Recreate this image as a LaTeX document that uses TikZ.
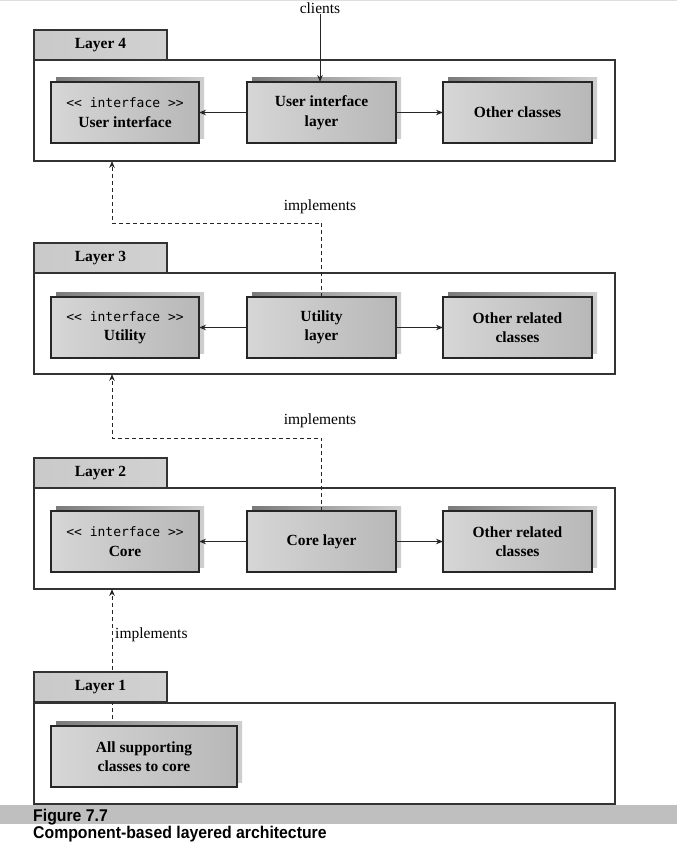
\documentclass[tikz,border=0pt]{standalone}
\usepackage{fontspec}
\setmainfont{Liberation Serif}
\newfontfamily\capfont{Liberation Sans}
\newfontfamily\codefont{DejaVu Sans Mono}
\usetikzlibrary{arrows.meta,shadows}
\begin{document}
\begin{tikzpicture}[x=1pt,y=-1pt,
  layerbox/.style={draw=black!80, line width=1.3pt, fill=white, anchor=north west,
    inner sep=0pt, outer sep=0pt, minimum width=581pt, minimum height=101pt},
  tabbox/.style={draw=black!80, line width=1.3pt, left color=gray!42, middle color=gray!14, right color=gray!36,
    anchor=north west, inner sep=0pt, outer sep=0pt, minimum width=133pt, minimum height=30pt,
    font=\fontsize{15.5}{18}\selectfont\bfseries},
  clsbox/.style={draw=black!85, line width=1.3pt, left color=gray!32, middle color=gray!16, right color=gray!56,
    anchor=north west, inner sep=0pt, outer sep=0pt, minimum height=61pt, align=center,
    font=\fontsize{15.5}{19.5}\selectfont\bfseries,
    general shadow={shadow xshift=5pt, shadow yshift=5pt, left color=black!52, right color=gray!38}},
  conn/.style={draw=black!85, line width=1pt, -{Stealth[length=7pt,width=5.5pt]}},
  impl/.style={draw=black!85, line width=1pt, dash pattern=on 4pt off 3pt, -{Stealth[length=7pt,width=5.5pt]}},
  lbl/.style={font=\fontsize{15.5}{18}\selectfont, inner sep=0pt},
  capstyle/.style={anchor=base west, inner sep=0pt, font=\capfont\bfseries\fontsize{17}{20}\selectfont}
]
\useasboundingbox (0,0) rectangle (677,859);
\draw[gray!25, line width=1pt] (0,1) -- (677,1);

% layer frames
\node[layerbox] (L4) at (34,60) {};
\node[layerbox] (L3) at (34,273) {};
\node[layerbox] (L2) at (34,488) {};
\node[layerbox] (L1) at (34,703) {};

% labels
\node[lbl] (clients) at (320,8) {clients};
\node[lbl] (imp4) at (320,207) {implements};
\node[lbl] (imp3) at (320,421) {implements};
\node[lbl, anchor=west] (imp2) at (115,635) {implements};

\coordinate (b4) at (112,223);
\coordinate (b3) at (112,438);
\coordinate (s1) at (112,726);

% dashed line of layer 1 (behind tab and box)
\draw[impl] (s1) -- (s1 |- L2.south);

% tabs
\node[tabbox] (T4) at (34,30) {Layer 4};
\node[tabbox] (T3) at (34,243) {Layer 3};
\node[tabbox] (T2) at (34,458) {Layer 2};
\node[tabbox] (T1) at (34,672) {Layer 1};

% layer 4 classes
\node[clsbox, minimum width=148pt] (if4) at (51,82) {\codefont\fontsize{13}{15}\selectfont\mdseries << interface >>\\User interface};
\node[clsbox, minimum width=149pt] (mid4) at (247,82) {User interface\\layer};
\node[clsbox, minimum width=149pt] (oth4) at (443,82) {Other classes};

% layer 3 classes
\node[clsbox, minimum width=148pt] (if3) at (51,297) {\codefont\fontsize{13}{15}\selectfont\mdseries << interface >>\\Utility};
\node[clsbox, minimum width=149pt] (mid3) at (247,297) {Utility\\layer};
\node[clsbox, minimum width=149pt] (oth3) at (443,297) {Other related\\classes};

% layer 2 classes
\node[clsbox, minimum width=148pt] (if2) at (51,511) {\codefont\fontsize{13}{15}\selectfont\mdseries << interface >>\\Core};
\node[clsbox, minimum width=149pt] (mid2) at (247,511) {Core layer};
\node[clsbox, minimum width=149pt] (oth2) at (443,511) {Other related\\classes};

% layer 1 class
\node[clsbox, minimum width=186pt] (sup) at (51,726) {All supporting\\classes to core};

% connectors
\draw[conn] (clients.south) -- (clients.south |- mid4.north);
\draw[conn] (mid4.west) -- (if4.east);
\draw[conn] (mid4.east) -- (oth4.west);
\draw[conn] (mid3.west) -- (if3.east);
\draw[conn] (mid3.east) -- (oth3.west);
\draw[conn] (mid2.west) -- (if2.east);
\draw[conn] (mid2.east) -- (oth2.west);

\draw[impl] (mid3.north) |- (b4) -- (b4 |- L4.south);
\draw[impl] (mid2.north) |- (b3) -- (b3 |- L3.south);

% caption
\fill[gray!50] (0,805) rectangle (677,824);
\node[capstyle] (fig) at (33,821) {\scalebox{0.93}[1]{Figure 7.7}};
\node[capstyle] (cap) at (33,838) {\scalebox{0.93}[1]{Component-based layered architecture}};
\end{tikzpicture}
\end{document}
